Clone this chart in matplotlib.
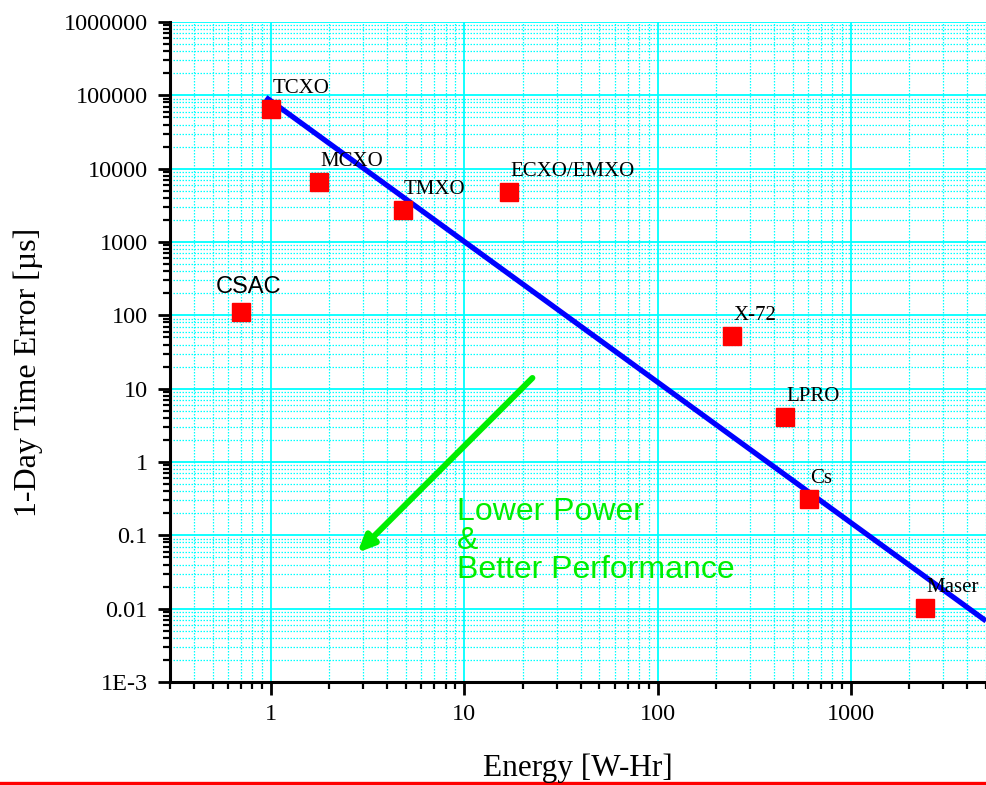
import numpy as np
import matplotlib.pyplot as plt
from matplotlib.lines import Line2D
from matplotlib.ticker import LogLocator, FuncFormatter, NullFormatter

# oscillator data (energy in W-Hr, 1-day time error in us)
names = ['TCXO', 'MCXO', 'TMXO', 'ECXO/EMXO', 'CSAC', 'X-72', 'LPRO', 'Cs', 'Maser']
energy = [1.0, 1.77, 4.8, 17.0, 0.70, 242, 455, 606, 2420]
time_err = [66000, 6500, 2700, 4800, 110, 52, 4.1, 0.31, 0.0102]

# trend line end points
trend_x = [0.94, 5000]
trend_y = [94000, 0.0068]

# arrow (tail -> head)
arrow_tail = (22.5, 14.0)
arrow_head = (2.8, 0.058)

y_labels = {1e6: '1000000', 1e5: '100000', 1e4: '10000', 1e3: '1000', 1e2: '100',
            1e1: '10', 1e0: '1', 1e-1: '0.1', 1e-2: '0.01', 1e-3: '1E-3'}

serif = 'Liberation Serif'
sans = 'Liberation Sans'
green = '#00ee00'

fig = plt.figure(figsize=(9.86, 7.85), dpi=100)
ax = fig.add_axes([170 / 986, 1 - 682 / 785, 816 / 986, 660 / 785])
ax.set_xscale('log')
ax.set_yscale('log')
ax.set_xlim(0.3, 5000)
ax.set_ylim(1e-3, 1e6)

ax.grid(True, which='major', color='cyan', lw=1.3, ls='-', zorder=0)
ax.grid(True, which='minor', color='cyan', lw=0.9, ls=(0, (1.2, 1.2)), zorder=0)
ax.set_axisbelow(True)

ax.plot(trend_x, trend_y, color='#0000ff', lw=3.8, solid_capstyle='butt', zorder=3)
ax.plot(energy, time_err, ls='none', marker='s', ms=13.5, color='#ff0000',
        mec='#ff0000', zorder=4)

for n, x, y in zip(names, energy, time_err):
    if n == 'CSAC':
        ax.annotate(n, (x, y), xytext=(5, 14), textcoords='offset points',
                    ha='center', va='baseline', fontsize=17, family=sans, zorder=5)
    else:
        ax.annotate(n, (x, y), xytext=(1, 11.5), textcoords='offset points',
                    ha='left', va='baseline', fontsize=15, family=serif, zorder=5)

ax.annotate('', xy=arrow_head, xytext=arrow_tail,
            arrowprops=dict(arrowstyle='-|>,head_length=1.0,head_width=0.45',
                            color=green, lw=4.3, shrinkA=0, shrinkB=0), zorder=5)
ax.text(9.2, 0.33, 'Lower Power\n&\nBetter Performance', color=green,
        fontsize=23, family=sans, ha='left', va='top', linespacing=0.95, zorder=5)

for s in ['top', 'right']:
    ax.spines[s].set_visible(False)
for s in ['left', 'bottom']:
    ax.spines[s].set_linewidth(2.2)

ax.xaxis.set_major_locator(LogLocator(base=10, numticks=20))
ax.xaxis.set_minor_locator(LogLocator(base=10, subs=np.arange(2, 10), numticks=20))
ax.yaxis.set_major_locator(LogLocator(base=10, numticks=20))
ax.yaxis.set_minor_locator(LogLocator(base=10, subs=np.arange(2, 10), numticks=20))
ax.xaxis.set_major_formatter(FuncFormatter(lambda v, p: '%g' % v))
ax.yaxis.set_major_formatter(FuncFormatter(lambda v, p: y_labels.get(v, '')))
ax.xaxis.set_minor_formatter(NullFormatter())
ax.yaxis.set_minor_formatter(NullFormatter())
ax.tick_params(which='major', direction='out', length=9, width=2, pad=7, labelsize=17.5)
ax.tick_params(which='minor', direction='out', length=5, width=1.6)
for lab in ax.get_xticklabels() + ax.get_yticklabels():
    lab.set_family(serif)

fig.text(578 / 986, 1 - 776 / 785, 'Energy [W-Hr]', ha='center', va='baseline',
         fontsize=22.5, family=serif)
fig.text(28 / 986, 1 - 372 / 785, '1-Day Time Error [\u00b5s]', ha='center', va='center',
         rotation=90, fontsize=23, family=serif)

fig.add_artist(Line2D([0, 1], [2 / 785, 2 / 785], color='#ff0000', lw=2.4))

fig.savefig('out.png', dpi=100)
